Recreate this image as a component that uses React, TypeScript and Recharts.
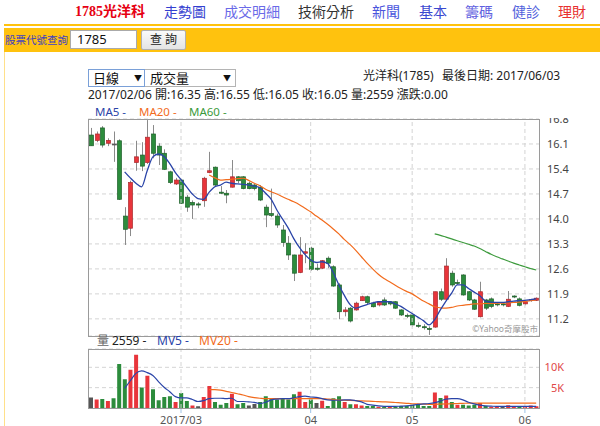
import { Bar, CartesianGrid, Cell, ComposedChart, Line, ReferenceLine, XAxis, YAxis } from "recharts";

const dates = [
  "02/06", "02/07", "02/08", "02/09", "02/10", "02/13", "02/14", "02/15", "02/16", "02/17",
  "02/18", "02/20", "02/21", "02/22", "02/23", "02/24",
  "03/01", "03/02", "03/03", "03/06", "03/07", "03/08", "03/09", "03/10", "03/13", "03/14",
  "03/15", "03/16", "03/17", "03/20", "03/21", "03/22", "03/23", "03/24", "03/27", "03/28",
  "03/29", "03/30", "03/31",
  "04/05", "04/06", "04/07", "04/10", "04/11", "04/12", "04/13", "04/14", "04/17", "04/18",
  "04/19", "04/20", "04/21", "04/24", "04/25", "04/26", "04/27", "04/28",
  "05/02", "05/03", "05/04", "05/05", "05/08", "05/09", "05/10", "05/11", "05/12", "05/15",
  "05/16", "05/17", "05/18", "05/19", "05/22", "05/23", "05/24", "05/25", "05/26", "05/31",
  "06/01", "06/02", "06/03",
];

const opens = [
  16.35, 16.2, 16.55, 16.12, 16.1, 16.19, 14.08, 13.74, 15.58, 15.79,
  15.58, 16.38, 16.04, 15.84, 15.32, 14.98, 15.09, 14.61, 14.46, 14.42,
  14.51, 15.3, 15.45, 14.75, 14.72, 14.89, 15.18, 15.18, 15.0, 14.95,
  14.89, 14.33, 14.15, 14.08, 13.69, 13.32, 12.99, 12.5, 13.04, 13.18,
  12.62, 12.62, 12.9, 12.66, 12.15, 11.4, 11.5, 11.45, 11.71, 11.82,
  11.64, 11.59, 11.73, 11.68, 11.68, 11.45, 11.3, 11.31, 11.02, 10.98,
  10.93, 10.97, 11.96, 11.75, 12.48, 12.22, 12.43, 11.96, 11.73, 11.26,
  11.73, 11.76, 11.62, 11.62, 11.55, 11.84, 11.76, 11.62, 11.72, 11.72,
];
const highs = [
  16.55, 16.45, 16.6, 16.26, 16.45, 16.23, 14.33, 15.07, 16.19, 16.15,
  16.77, 16.63, 16.12, 15.95, 15.35, 15.15, 15.12, 14.67, 14.52, 14.47,
  15.18, 15.88, 15.47, 14.92, 14.81, 15.65, 15.2, 15.2, 15.05, 14.98,
  14.95, 14.4, 14.85, 14.15, 13.83, 13.52, 13.0, 13.49, 13.32, 13.22,
  12.75, 12.85, 12.95, 12.7, 12.2, 11.53, 11.53, 11.68, 11.85, 11.85,
  11.68, 11.7, 11.8, 11.7, 11.7, 11.47, 11.35, 11.35, 11.1, 11.05,
  10.99, 11.96, 12.05, 12.9, 12.55, 12.3, 12.45, 11.98, 11.76, 12.24,
  11.76, 11.8, 11.66, 11.66, 11.98, 11.86, 11.8, 11.7, 11.76, 11.8,
];
const lows = [
  16.05, 16.15, 16.0, 16.04, 15.6, 14.53, 13.27, 13.52, 15.35, 15.34,
  15.54, 15.7, 15.51, 15.37, 14.98, 14.95, 14.42, 14.2, 14.0, 14.3,
  14.34, 15.28, 14.92, 14.7, 14.44, 14.88, 15.0, 14.83, 14.83, 14.8,
  14.5, 13.77, 14.05, 13.75, 13.22, 12.85, 12.26, 12.48, 12.76, 12.55,
  12.55, 12.6, 12.62, 12.1, 11.19, 11.27, 11.1, 11.43, 11.7, 11.6,
  11.52, 11.55, 11.56, 11.58, 11.48, 11.28, 11.22, 10.98, 10.95, 10.9,
  10.75, 10.95, 11.7, 11.7, 12.1, 12.15, 11.85, 11.7, 11.45, 11.24,
  11.45, 11.5, 11.55, 11.55, 11.53, 11.78, 11.55, 11.58, 11.68, 11.7,
];
const closes = [
  16.05, 16.38, 16.07, 16.2, 16.1, 14.55, 13.71, 15.02, 15.74, 15.48,
  16.29, 15.84, 15.79, 15.39, 15.02, 15.09, 14.44, 14.33, 14.39, 14.39,
  15.14, 15.35, 14.95, 14.72, 14.67, 15.18, 15.07, 14.85, 14.85, 14.85,
  14.53, 14.11, 14.1, 13.83, 13.34, 12.99, 12.48, 12.99, 13.08, 12.59,
  12.59, 12.83, 12.76, 12.12, 11.4, 11.45, 11.14, 11.64, 11.82, 11.66,
  11.54, 11.68, 11.59, 11.62, 11.5, 11.31, 11.28, 11.03, 11.0, 10.97,
  10.91, 11.96, 11.75, 12.68, 12.15, 12.2, 11.87, 11.73, 11.47, 11.96,
  11.5, 11.55, 11.6, 11.6, 11.75, 11.82, 11.58, 11.68, 11.74, 11.78,
];
const volumes = [
  2559, 2100, 2200, 1700, 2400, 10800, 7050, 9400, 13100, 5050,
  7900, 4600, 1900, 2700, 2900, 1450, 3700, 1700, 600, 400,
  2700, 5400, 1450, 800, 1200, 3500, 900, 1200, 600, 1000,
  1450, 2900, 2300, 2100, 2300, 2100, 3400, 4000, 1450, 2100,
  1200, 1800, 500, 2400, 2900, 1450, 900, 900, 600, 500,
  500, 300, 250, 300, 250, 500, 500, 800, 900, 500,
  500, 3800, 2450, 3100, 1450, 800, 800, 600, 800, 1200,
  500, 300, 300, 300, 700, 400, 400, 300, 600, 400,
];

// moving averages as drawn on the chart, each starting where its line starts
const MA5_START = 6;
const ma5 = [
  15.32, 15.15, 15.0, 14.9, 15.35, 15.74, 15.82, 15.75, 15.55, 15.3,
  15.1, 14.9, 14.7, 14.57, 14.55, 14.75, 14.9, 14.95, 15.03, 15.0,
  14.98, 14.97, 14.95, 14.92, 14.87, 14.72, 14.55, 14.25, 14.0, 13.75,
  13.45, 13.2, 13.0, 12.85, 12.78, 12.8, 12.75, 12.5, 12.15, 11.85,
  11.6, 11.5, 11.55, 11.6, 11.65, 11.68, 11.68, 11.68, 11.62, 11.55,
  11.45, 11.35, 11.25, 11.15, 11.03, 11.18, 11.45, 11.7, 11.92, 12.15,
  12.15, 12.05, 11.95, 11.85, 11.7, 11.67, 11.66, 11.66, 11.68, 11.7,
  11.71, 11.72, 11.74, 11.76,
];
const MA20_START = 21;
const ma20 = [
  15.23, 15.15, 15.09, 15.1, 15.11, 15.13, 15.14, 15.08, 15.0, 14.93,
  14.83, 14.76, 14.7, 14.62, 14.55, 14.48, 14.4, 14.3, 14.2, 14.08,
  13.97, 13.85, 13.72, 13.58, 13.42, 13.28, 13.12, 12.94, 12.76, 12.6,
  12.45, 12.33, 12.24, 12.14, 12.05, 11.97, 11.9, 11.8, 11.7, 11.62,
  11.54, 11.51, 11.5, 11.52, 11.56, 11.58, 11.6, 11.62, 11.62, 11.63,
  11.63, 11.64, 11.64, 11.65, 11.66, 11.67, 11.69, 11.71, 11.74,
];
const MA60_START = 61;
const ma60 = [
  13.58, 13.54, 13.49, 13.44, 13.39, 13.34, 13.29, 13.24, 13.17, 13.09,
  13.01, 12.94, 12.88, 12.82, 12.76, 12.71, 12.66, 12.61, 12.57,
];
const MV5_START = 6;
const mv5 = [
  4800, 6700, 8500, 9100, 8700, 8000, 6500, 5100, 4000, 2800,
  2500, 2500, 2100, 1600, 1800, 2300, 2400, 2400, 2300, 2400,
  1600, 1600, 1500, 1400, 1100, 1400, 2000, 2200, 2300, 2300,
  2500, 2800, 2900, 2700, 2600, 2300, 2000, 1900, 1900, 2000,
  2000, 1800, 1500, 900, 700, 500, 400, 400, 400, 450,
  500, 650, 900, 1000, 1100, 1300, 1700, 2200, 2300, 2300,
  2000, 1400, 1000, 700, 500, 450, 400, 400, 400, 400,
  400, 400, 400, 400,
];
const MV20_START = 21;
const mv20 = [
  4500, 4500, 4400, 4100, 3800, 3500, 3200, 2800, 2550, 2400,
  2300, 2300, 2300, 2300, 2300, 2300, 2300, 2300, 2300, 2300,
  2300, 2200, 2100, 1950, 1900, 1850, 1800, 1750, 1700, 1650,
  1550, 1500, 1450, 1350, 1250, 1150, 1050, 1000, 950, 900,
  900, 950, 1000, 1050, 1100, 1150, 1200, 1200, 1200, 1200,
  1200, 1200, 1200, 1200, 1200, 1200, 1200, 1200, 1200,
];

const priceTicks = [11.2, 11.9, 12.6, 13.3, 14.0, 14.7, 15.4, 16.1, 16.8];
const volTicks = [5000, 10000];
const monthTicks = ["03/01", "04/05", "05/02", "06/01"];
const monthLabels = ["2017/03", "04", "05", "06"];

const RED = "#e8353b";
const GREEN = "#2c8c3c";
const GRAY = "#666";
const BLUE = "#2a44a8";
const ORANGE = "#f26b1d";
const DGREEN = "#3c9a3c";
const SANS = '"Noto Sans", "Noto Sans CJK TC", sans-serif';

const rows = dates.map((date, i) => ({
  date,
  open: opens[i],
  high: highs[i],
  low: lows[i],
  close: closes[i],
  range: [lows[i], highs[i]],
  vol: volumes[i],
  ma5: i >= MA5_START ? ma5[i - MA5_START] : null,
  ma20: i >= MA20_START ? ma20[i - MA20_START] : null,
  ma60: i >= MA60_START ? ma60[i - MA60_START] : null,
  mv5: i >= MV5_START ? mv5[i - MV5_START] : null,
  mv20: i >= MV20_START ? mv20[i - MV20_START] : null,
}));

function Candle(props: any) {
  const { x, y, width, height, payload } = props;
  const { open, close, high, low } = payload;
  const top = Math.min(y, y + height);
  const h = Math.abs(height);
  const py = (p: number) => (high === low ? top : top + ((high - p) / (high - low)) * h);
  const cx = Math.round(x + width / 2) + 0.5;
  const color = close > open ? RED : close < open ? GREEN : GRAY;
  const edge = close > open ? "#a8282c" : close < open ? "#1d5e28" : "#555";
  const bodyTop = py(Math.max(open, close));
  const bodyH = Math.max(1, Math.abs(py(open) - py(close)));
  return (
    <g>
      <line x1={cx} x2={cx} y1={top} y2={top + h} stroke="#8a8a8a" strokeWidth={1} />
      <rect x={cx - 2} y={bodyTop} width={4} height={bodyH} fill={color} stroke={edge} strokeWidth={0.7} />
    </g>
  );
}

function VolTick(props: any) {
  const { x, y, payload } = props;
  return (
    <text x={x + 17} y={y} dy={4} textAnchor="end" fontSize={11} fill="#e04848" fontFamily={SANS}>
      {payload.value / 1000}K
    </text>
  );
}

function Txt({ x, y, size = 12, color = "#222", children, style }: any) {
  return (
    <div
      style={{
        position: "absolute",
        left: x,
        top: y - size * 0.6,
        fontSize: size,
        lineHeight: `${size * 1.2}px`,
        height: size * 1.2,
        color,
        whiteSpace: "nowrap",
        fontFamily: SANS,
        ...style,
      }}
    >
      {children}
    </div>
  );
}

const navItems = [
  { label: "走勢圖", x: 164, color: "#3340d0" },
  { label: "成交明細", x: 224, color: "#6a6ae8" },
  { label: "技術分析", x: 298, color: "#333" },
  { label: "新聞", x: 372, color: "#4a55dd" },
  { label: "基本", x: 419, color: "#3a48d0" },
  { label: "籌碼", x: 465, color: "#6060e0" },
  { label: "健診", x: 512, color: "#5262dc" },
  { label: "理財", x: 558, color: "#e83030" },
];

export default function App() {
  return (
    <div style={{ position: "absolute", left: 0, top: 0, width: 600, height: 426, background: "#fff", overflow: "hidden" }}>
      {/* top navigation */}
      <Txt x={75} y={12} size={14} color="#e60012" style={{ fontWeight: "bold", fontFamily: '"Liberation Serif", "Noto Sans CJK TC", serif' }}>
        1785光洋科
      </Txt>
      {navItems.map((n) => (
        <Txt key={n.label} x={n.x} y={12} size={14} color={n.color}>
          {n.label}
        </Txt>
      ))}

      {/* search bar */}
      <div style={{ position: "absolute", left: 4, top: 24, width: 596, height: 2, background: "#ffc20e" }} />
      <div style={{ position: "absolute", left: 4, top: 28, width: 596, height: 24, background: "#ffc20e" }} />
      <div style={{ position: "absolute", left: 4, top: 52, width: 1, height: 374, background: "#ffe08a" }} />
      <Txt x={5} y={40} size={10.5} color="#4040c0">股票代號查詢</Txt>
      <div
        style={{
          position: "absolute", left: 70, top: 30, width: 67, height: 19, background: "#fff",
          border: "1px solid #aaa", boxSizing: "border-box", fontFamily: SANS, fontSize: 13,
          lineHeight: "17px", paddingLeft: 6, color: "#111",
        }}
      >
        1785
      </div>
      <div
        style={{
          position: "absolute", left: 141, top: 30, width: 45, height: 20,
          background: "linear-gradient(#fafafa, #e4e4e4)", border: "1px solid #b0b0b0", borderRadius: 2,
          boxSizing: "border-box", fontFamily: SANS, fontSize: 12, lineHeight: "18px", textAlign: "center", color: "#222",
        }}
      >
        查 詢
      </div>

      {/* selectors and info */}
      <div
        style={{
          position: "absolute", left: 88, top: 69, width: 57, height: 18, border: "1px solid #7aa0d8",
          boxSizing: "border-box", fontFamily: SANS, fontSize: 13, lineHeight: "16px", paddingLeft: 4, color: "#111",
        }}
      >
        日線
        <span style={{ position: "absolute", left: 45, top: 0, fontSize: 8 }}>▼</span>
      </div>
      <div
        style={{
          position: "absolute", left: 145, top: 69, width: 91, height: 18, border: "1px solid #b4b4b4",
          borderLeft: "none", boxSizing: "border-box", fontFamily: SANS, fontSize: 13, lineHeight: "16px",
          paddingLeft: 5, color: "#111",
        }}
      >
        成交量
        <span style={{ position: "absolute", left: 78, top: 0, fontSize: 8 }}>▼</span>
      </div>
      <Txt x={363} y={76} size={12}>光洋科(1785)</Txt>
      <Txt x={442} y={76} size={12}>最後日期: 2017/06/03</Txt>
      <Txt x={88} y={95} size={12}>
        2017/02/06 開:16.35 高:16.55 低:16.05 收:16.05 量:2559 漲跌:0.00
      </Txt>
      <Txt x={95} y={112} size={11.5} color={BLUE}>MA5 -</Txt>
      <Txt x={139} y={112} size={11.5} color={ORANGE}>MA20 -</Txt>
      <Txt x={189} y={112} size={11.5} color={DGREEN}>MA60 -</Txt>

      {/* price panel */}
      <div style={{ position: "absolute", left: 80, top: 118, width: 500, height: 220, overflow: "hidden" }}>
        <ComposedChart width={500} height={220} data={rows} margin={{ top: 1, right: 0, bottom: 2, left: 8 }}>
          <CartesianGrid vertical={false} stroke="#d4d4d4" strokeDasharray="4 3" />
          <XAxis dataKey="date" hide />
          <YAxis
            orientation="right"
            width={41}
            domain={[10.72, 16.8]}
            ticks={priceTicks}
            interval={0}
            allowDataOverflow
            axisLine={false}
            tickLine={false}
            tickFormatter={(v: number) => v.toFixed(1)}
            tick={{ fontSize: 11, fill: "#444", fontFamily: SANS }}
          />
          {monthTicks.map((d) => (
            <ReferenceLine key={d} x={d} stroke="#d4d4d4" strokeDasharray="4 3" />
          ))}
          <Bar dataKey="range" barSize={4} shape={<Candle />} isAnimationActive={false} />
          <Line type="monotone" dataKey="ma20" stroke={ORANGE} strokeWidth={1.2} dot={false} isAnimationActive={false} />
          <Line type="monotone" dataKey="ma60" stroke={DGREEN} strokeWidth={1.2} dot={false} isAnimationActive={false} />
          <Line type="monotone" dataKey="ma5" stroke={BLUE} strokeWidth={1.3} dot={false} isAnimationActive={false} />
        </ComposedChart>
      </div>
      <div style={{ position: "absolute", left: 88, top: 119, width: 452, height: 218, border: "1px solid #9a9a9a", boxSizing: "border-box", pointerEvents: "none" }} />
      <Txt x={460} y={329} size={8.5} color="#999" style={{ left: "auto", right: 62 }}>©Yahoo奇摩股市</Txt>

      {/* volume legend */}
      <Txt x={97} y={341} size={12} color="#666">量</Txt>
      <Txt x={112} y={341} size={12} color="#222">2559 -</Txt>
      <Txt x={157} y={341} size={12} color={BLUE}>MV5 -</Txt>
      <Txt x={199} y={341} size={12} color={ORANGE}>MV20 -</Txt>

      {/* volume panel */}
      <div style={{ position: "absolute", left: 80, top: 345, width: 500, height: 81 }}>
        <ComposedChart width={500} height={81} data={rows} margin={{ top: 4, right: 0, bottom: 0, left: 8 }}>
          <CartesianGrid vertical={false} stroke="#d4d4d4" strokeDasharray="4 3" />
          <XAxis
            dataKey="date"
            ticks={monthTicks}
            interval={0}
            height={18}
            axisLine={false}
            tickSize={5}
            tickMargin={3}
            tickLine={{ stroke: "#9ec3e6" }}
            tickFormatter={(v: string) => monthLabels[monthTicks.indexOf(v)]}
            tick={{ fontSize: 11, fill: "#555", fontFamily: SANS }}
          />
          <YAxis
            orientation="right"
            width={41}
            domain={[0, 14500]}
            ticks={volTicks}
            interval={0}
            allowDataOverflow
            axisLine={false}
            tickLine={false}
            tick={<VolTick />}
          />
          {monthTicks.map((d) => (
            <ReferenceLine key={d} x={d} stroke="#d4d4d4" strokeDasharray="4 3" />
          ))}
          <Bar dataKey="vol" barSize={4} isAnimationActive={false}>
            {rows.map((r, i) => {
              const prev = i > 0 ? rows[i - 1].close : r.close;
              const c = r.close > prev ? RED : r.close < prev ? GREEN : "#555";
              return <Cell key={r.date} fill={c} />;
            })}
          </Bar>
          <Line type="monotone" dataKey="mv20" stroke={ORANGE} strokeWidth={1.2} dot={false} isAnimationActive={false} />
          <Line type="monotone" dataKey="mv5" stroke={BLUE} strokeWidth={1.2} dot={false} isAnimationActive={false} />
        </ComposedChart>
      </div>
      <div style={{ position: "absolute", left: 88, top: 349, width: 452, height: 60, border: "1px solid #9a9a9a", boxSizing: "border-box", pointerEvents: "none" }} />
    </div>
  );
}
